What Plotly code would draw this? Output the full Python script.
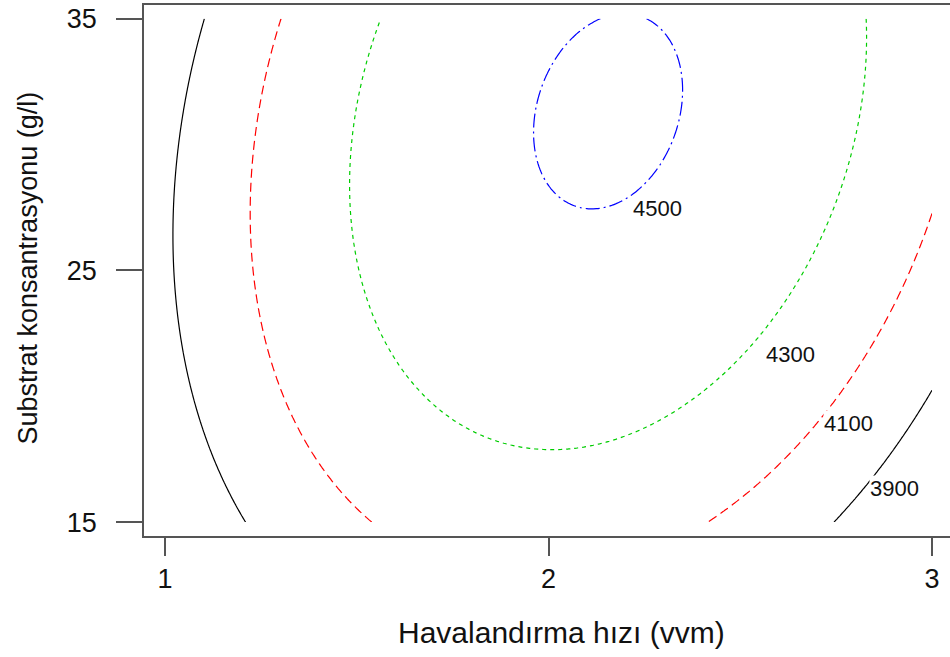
import numpy as np
import plotly.graph_objects as go

# Factors
x_name = "Havalandırma hızı (vvm)"
y_name = "Substrat konsantrasyonu (g/l)"
x_limits = [1.0, 3.0]
y_limits = [15.0, 35.0]

# Second-order response surface in coded units
# u = x - 2, v = (y - 25) / 10
coef_names = ["b0", "bu", "bv", "buu", "bvv", "buv"]
coef_values = [4466.15, 87.07, 143.06, -503.97, -126.65, 109.95]

# Contour levels and their styles
levels = [3900, 4100, 4300, 4500]
level_colors = ["#000000", "#FF0000", "#00CD00", "#0000FF"]
level_dashes = ["solid", "9px,5px", "4px,4px", "14px,4px,2px,4px"]

# Label anchor points (x, y) on each contour
label_x = [2.903, 2.781, 2.632, 2.283]
label_y = [16.35, 18.92, 21.64, 27.44]

x_ticks = [1, 2, 3]
y_ticks = [15, 25, 35]

b = dict(zip(coef_names, coef_values))
xs = np.linspace(x_limits[0], x_limits[1], 241)
ys = np.linspace(y_limits[0], y_limits[1], 241)
X, Y = np.meshgrid(xs, ys)
U = X - 2.0
V = (Y - 25.0) / 10.0
Z = (b["b0"] + b["bu"] * U + b["bv"] * V + b["buu"] * U ** 2
     + b["bvv"] * V ** 2 + b["buv"] * U * V)

FONT = "Liberation Sans, Arial, sans-serif"
TEXT = "#111111"

fig = go.Figure()
for lev, col, dash in zip(levels, level_colors, level_dashes):
    fig.add_trace(go.Contour(
        x=xs, y=ys, z=Z,
        contours=dict(start=lev, end=lev, size=100, coloring="lines",
                      showlabels=False),
        colorscale=[[0, col], [1, col]],
        line=dict(width=1.2, dash=dash),
        showscale=False,
        hoverinfo="skip",
    ))

for lev, lx, ly in zip(levels, label_x, label_y):
    fig.add_annotation(
        x=lx, y=ly, xref="x", yref="y", text=str(lev), showarrow=False,
        font=dict(family=FONT, size=22, color=TEXT),
        bgcolor="white", borderpad=0,
    )

# Axis titles
fig.add_annotation(
    x=(561 - 144) / 806, y=0, xref="paper", yref="paper",
    text=x_name, showarrow=False, xanchor="center", yanchor="middle",
    yshift=-96, font=dict(family=FONT, size=30, color=TEXT),
)
fig.add_annotation(
    x=0, y=0.5, xref="paper", yref="paper", text=y_name, textangle=-90,
    showarrow=False, xanchor="center", yanchor="middle", xshift=-117,
    yshift=2, font=dict(family=FONT, size=27, color=TEXT),
)

axis_color = "#555555"
fig.update_xaxes(
    range=[1 + (144 - 165) / 383.5, 1 + (950 - 165) / 383.5],
    tickvals=x_ticks, ticktext=[str(t) for t in x_ticks],
    ticks="outside", ticklen=18, tickwidth=1.5, tickcolor=axis_color,
    showline=True, linecolor=axis_color, linewidth=1.5, mirror=True,
    showgrid=False, zeroline=False, ticklabelstandoff=0,
    tickfont=dict(family=FONT, size=27, color=TEXT),
)
fig.update_yaxes(
    range=[35 - (536 - 18.7) / 25.17, 35 + (18.7 - 5) / 25.17],
    tickvals=y_ticks, ticktext=[str(t) for t in y_ticks],
    ticks="outside", ticklen=26, tickwidth=1.5, tickcolor=axis_color,
    showline=True, linecolor=axis_color, linewidth=1.5, mirror=False,
    showgrid=False, zeroline=False, ticklabelstandoff=14,
    tickfont=dict(family=FONT, size=27, color=TEXT),
)

fig.update_layout(
    width=950, height=657,
    margin=dict(l=144, r=0, t=5, b=121),
    plot_bgcolor="white", paper_bgcolor="white",
    showlegend=False,
)

fig.write_html("out.html")
